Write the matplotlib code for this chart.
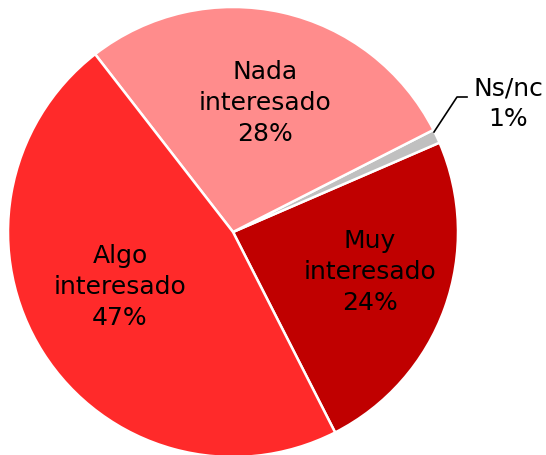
import matplotlib.pyplot as plt

labels = ['Muy\ninteresado\n24%', 'Ns/nc\n1%', 'Nada\ninteresado\n28%', 'Algo\ninteresado\n47%']
values = [24, 1, 28, 47]
colors = ['#C00000', '#C0C0C0', '#FF8C8C', '#FF2A2A']

fig = plt.figure(figsize=(5.46, 4.55), dpi=100)
ax = fig.add_axes([0, 0, 1, 1])
ax.set_xlim(0, 546)
ax.set_ylim(0, 455)
ax.set_aspect('equal')
ax.axis('off')

ax.pie(values, colors=colors, startangle=-63, counterclock=True,
       center=(233, 223), radius=225, frame=True,
       wedgeprops=dict(edgecolor='white', linewidth=1.8))
ax.axis('off')

# label positions in pixel coords (y measured from top)
pos = [(370, 272), (508, 104), (265, 103), (120, 287)]
for lab, (x, y) in zip(labels, pos):
    ax.text(x, 455 - y, lab, ha='center', va='center', fontsize=18,
            color='black', linespacing=1.35, family='DejaVu Sans')

# leader line for Ns/nc
ax.plot([434, 457, 467], [455 - 132, 455 - 97, 455 - 97], color='black', lw=1.2)

fig.savefig('out.png', dpi=100)
